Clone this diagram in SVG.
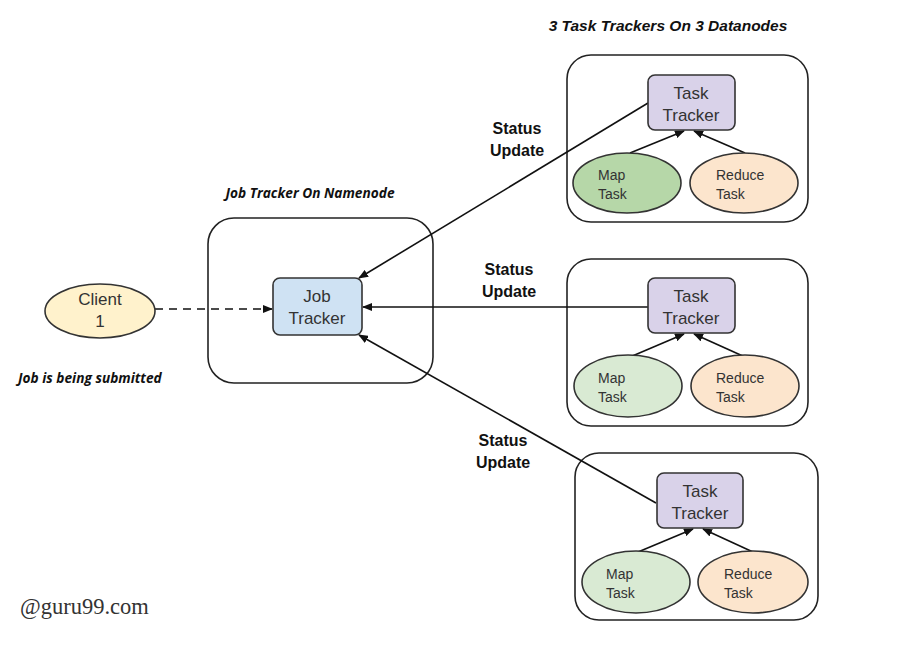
<svg xmlns="http://www.w3.org/2000/svg" width="900" height="662" viewBox="0 0 900 662">
<style>
.grp{fill:#fff;stroke:#222;stroke-width:1.6}
.tt{fill:#d9d2e9;stroke:#333;stroke-width:1.6}
.jt{fill:#cfe2f3;stroke:#333;stroke-width:1.6}
.map{fill:#d9ead3;stroke:#333;stroke-width:1.6}
.map1{fill:#b6d7a8;stroke:#333;stroke-width:1.6}
.red{fill:#fce5cd;stroke:#333;stroke-width:1.6}
.cl{fill:#fff2cc;stroke:#333;stroke-width:1.6}
.t{font-family:"Liberation Sans",Arial,sans-serif;fill:#333}
.big{font-size:17px;text-anchor:middle}
.sm{font-size:14px}
.st{font-family:"Liberation Sans",Arial,sans-serif;font-weight:bold;font-size:16px;fill:#111;text-anchor:middle}
.ti{font-family:"Open Sans","Liberation Sans",sans-serif;font-weight:bold;font-style:italic;font-size:13.7px;fill:#111}
.ln{stroke:#111;stroke-width:1.6;fill:none}
</style>
<defs>
<marker id="ah" markerWidth="10" markerHeight="8" refX="9" refY="4" orient="auto" markerUnits="userSpaceOnUse">
<path d="M0,0 L10,4 L0,8 z" fill="#111"/>
</marker>
</defs>
<rect width="900" height="662" fill="#fff"/>

<text x="668" y="31" text-anchor="middle" font-family="'Liberation Sans',Arial,sans-serif" font-weight="bold" font-style="italic" font-size="15.5" fill="#111">3 Task Trackers On 3 Datanodes</text>
<text class="ti" x="310" y="198" text-anchor="middle">Job Tracker On Namenode</text>
<text class="ti" x="18" y="383">Job is being submitted</text>

<g id="namenode">
<rect class="grp" x="208" y="218" width="225" height="165" rx="26"/>
</g>
<g id="datanode1">
<rect class="grp" x="567" y="55" width="241" height="167" rx="24"/>
</g>
<g id="datanode2">
<rect class="grp" x="567" y="259" width="241" height="167" rx="24"/>
</g>
<g id="datanode3">
<rect class="grp" x="575" y="453" width="243" height="167" rx="24"/>
</g>

<g id="connectors">
<line class="ln" x1="155" y1="309" x2="272" y2="309" stroke-dasharray="8,6" marker-end="url(#ah)"/>
<line class="ln" x1="648" y1="103" x2="359" y2="278" marker-end="url(#ah)"/>
<line class="ln" x1="648" y1="307" x2="363" y2="307" marker-end="url(#ah)"/>
<line class="ln" x1="656" y1="503" x2="359" y2="335" marker-end="url(#ah)"/>
<line class="ln" x1="630" y1="153" x2="684" y2="131" marker-end="url(#ah)"/>
<line class="ln" x1="745" y1="153" x2="694" y2="131" marker-end="url(#ah)"/>
<line class="ln" x1="630" y1="357" x2="684" y2="334" marker-end="url(#ah)"/>
<line class="ln" x1="745" y1="357" x2="694" y2="334" marker-end="url(#ah)"/>
<line class="ln" x1="638" y1="552" x2="693" y2="529" marker-end="url(#ah)"/>
<line class="ln" x1="753" y1="552" x2="703" y2="529" marker-end="url(#ah)"/>
</g>

<text class="st" x="517" y="134">Status</text>
<text class="st" x="517" y="156">Update</text>
<text class="st" x="509" y="275">Status</text>
<text class="st" x="509" y="297">Update</text>
<text class="st" x="503" y="446">Status</text>
<text class="st" x="503" y="468">Update</text>

<g id="client">
<ellipse class="cl" cx="100" cy="311" rx="55" ry="27"/>
<text class="t big" x="100" y="305">Client</text>
<text class="t big" x="100" y="327">1</text>
</g>

<g id="jobtracker">
<rect class="jt" x="273" y="278" width="89" height="57" rx="7"/>
<text class="t big" x="317" y="302">Job</text>
<text class="t big" x="317" y="324">Tracker</text>
</g>

<g id="tasktracker1">
<rect class="tt" x="648" y="75" width="87" height="55" rx="7"/>
<text class="t big" x="691" y="99">Task</text>
<text class="t big" x="691" y="121">Tracker</text>
</g>
<g id="map1">
<ellipse class="map1" cx="627" cy="183" rx="54" ry="30"/>
<text class="t sm" x="598" y="180">Map</text>
<text class="t sm" x="598" y="199">Task</text>
</g>
<g id="reduce1">
<ellipse class="red" cx="744" cy="183" rx="54" ry="30"/>
<text class="t sm" x="716" y="180">Reduce</text>
<text class="t sm" x="716" y="199">Task</text>
</g>

<g id="tasktracker2">
<rect class="tt" x="648" y="278" width="87" height="55" rx="7"/>
<text class="t big" x="691" y="302">Task</text>
<text class="t big" x="691" y="324">Tracker</text>
</g>
<g id="map2">
<ellipse class="map" cx="628" cy="386" rx="54" ry="31"/>
<text class="t sm" x="598" y="383">Map</text>
<text class="t sm" x="598" y="402">Task</text>
</g>
<g id="reduce2">
<ellipse class="red" cx="745" cy="386" rx="54" ry="31"/>
<text class="t sm" x="716" y="383">Reduce</text>
<text class="t sm" x="716" y="402">Task</text>
</g>

<g id="tasktracker3">
<rect class="tt" x="657" y="473" width="86" height="55" rx="7"/>
<text class="t big" x="700" y="497">Task</text>
<text class="t big" x="700" y="519">Tracker</text>
</g>
<g id="map3">
<ellipse class="map" cx="636" cy="582" rx="54" ry="31"/>
<text class="t sm" x="606" y="579">Map</text>
<text class="t sm" x="606" y="598">Task</text>
</g>
<g id="reduce3">
<ellipse class="red" cx="753" cy="582" rx="55" ry="31"/>
<text class="t sm" x="724" y="579">Reduce</text>
<text class="t sm" x="724" y="598">Task</text>
</g>

<text x="20" y="614" font-family="'Liberation Serif','Times New Roman',serif" font-size="22.5" fill="#333">@guru99.com</text>
</svg>
